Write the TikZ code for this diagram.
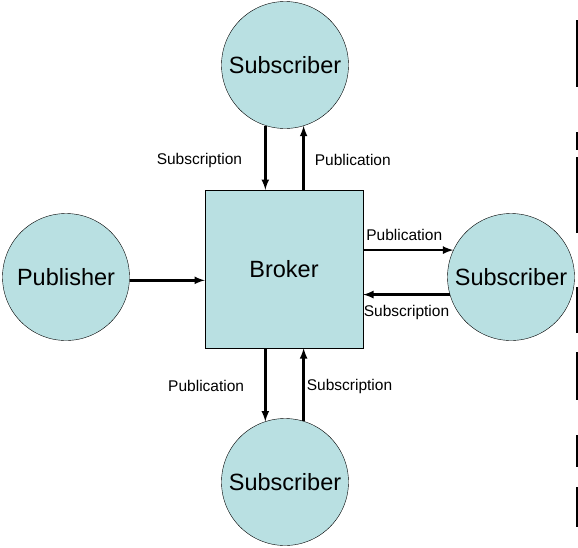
\documentclass[tikz,border=0pt]{standalone}
\usepackage{fontspec}
\setmainfont{Liberation Sans}
\usetikzlibrary{arrows}
\usetikzlibrary{positioning}
\definecolor{boxcyan}{RGB}{185,224,226}

\tikzset{
 party/.style={circle, draw=black, fill=boxcyan, minimum size=127pt, inner sep=0, font=\fontsize{23.5}{28}\selectfont},
 hub/.style={rectangle, draw=black, fill=boxcyan, minimum size=158pt, inner sep=0, font=\fontsize{23.5}{28}\selectfont},
 msg/.style={black, line width=2.5pt, ->, >=latex},
 tag/.style={font=\fontsize{15.5}{18}\selectfont, inner sep=1pt}
}

\begin{document}
\begin{tikzpicture}[x=1pt, y=-1pt]
\useasboundingbox (0,0) rectangle (578,547);
\node[hub] (brk) at (284,269) {Broker};
\node[party] (pub) at (66,277) {Publisher};
\node[party] (subN) at (285,65) {Subscriber};
\node[party] (subE) at (511,277) {Subscriber};
\node[party] (subS) at (285,482) {Subscriber};
% publisher to broker
\draw[msg] (pub.-3) -- (pub.-3 -| brk.west);
% top subscriber
\draw[msg] (subN.-108) -- (subN.-108 |- brk.north) node[midway, left=21pt, yshift=-3pt, tag] {Subscription};
\draw[msg] (subN.-73 |- brk.north) -- (subN.-73) node[midway, right=9pt, yshift=-2pt, tag] {Publication};
% right subscriber
\draw[msg] (subE.155 -| brk.east) -- (subE.155) node[midway, above=7pt, xshift=-4pt, tag] {Publication};
\draw[msg] (subE.196) -- (subE.196 -| brk.east) node[midway, below=6pt, yshift=-2pt, tag] {Subscription};
% bottom subscriber
\draw[msg] (subS.108 |- brk.south) -- (subS.108) node[midway, left=19pt, yshift=-1pt, tag] {Publication};
\draw[msg] (subS.73) -- (subS.73 |- brk.south) node[midway, right=1pt, yshift=-2pt, tag] {Subscription};
% margin line
\foreach \a/\b in {20/87, 132/150, 157/233, 287/333, 352/400, 435/467, 487/527} {
 \draw[black, line width=1.5pt] (577,\a) -- (577,\b);
}
\end{tikzpicture}
\end{document}
